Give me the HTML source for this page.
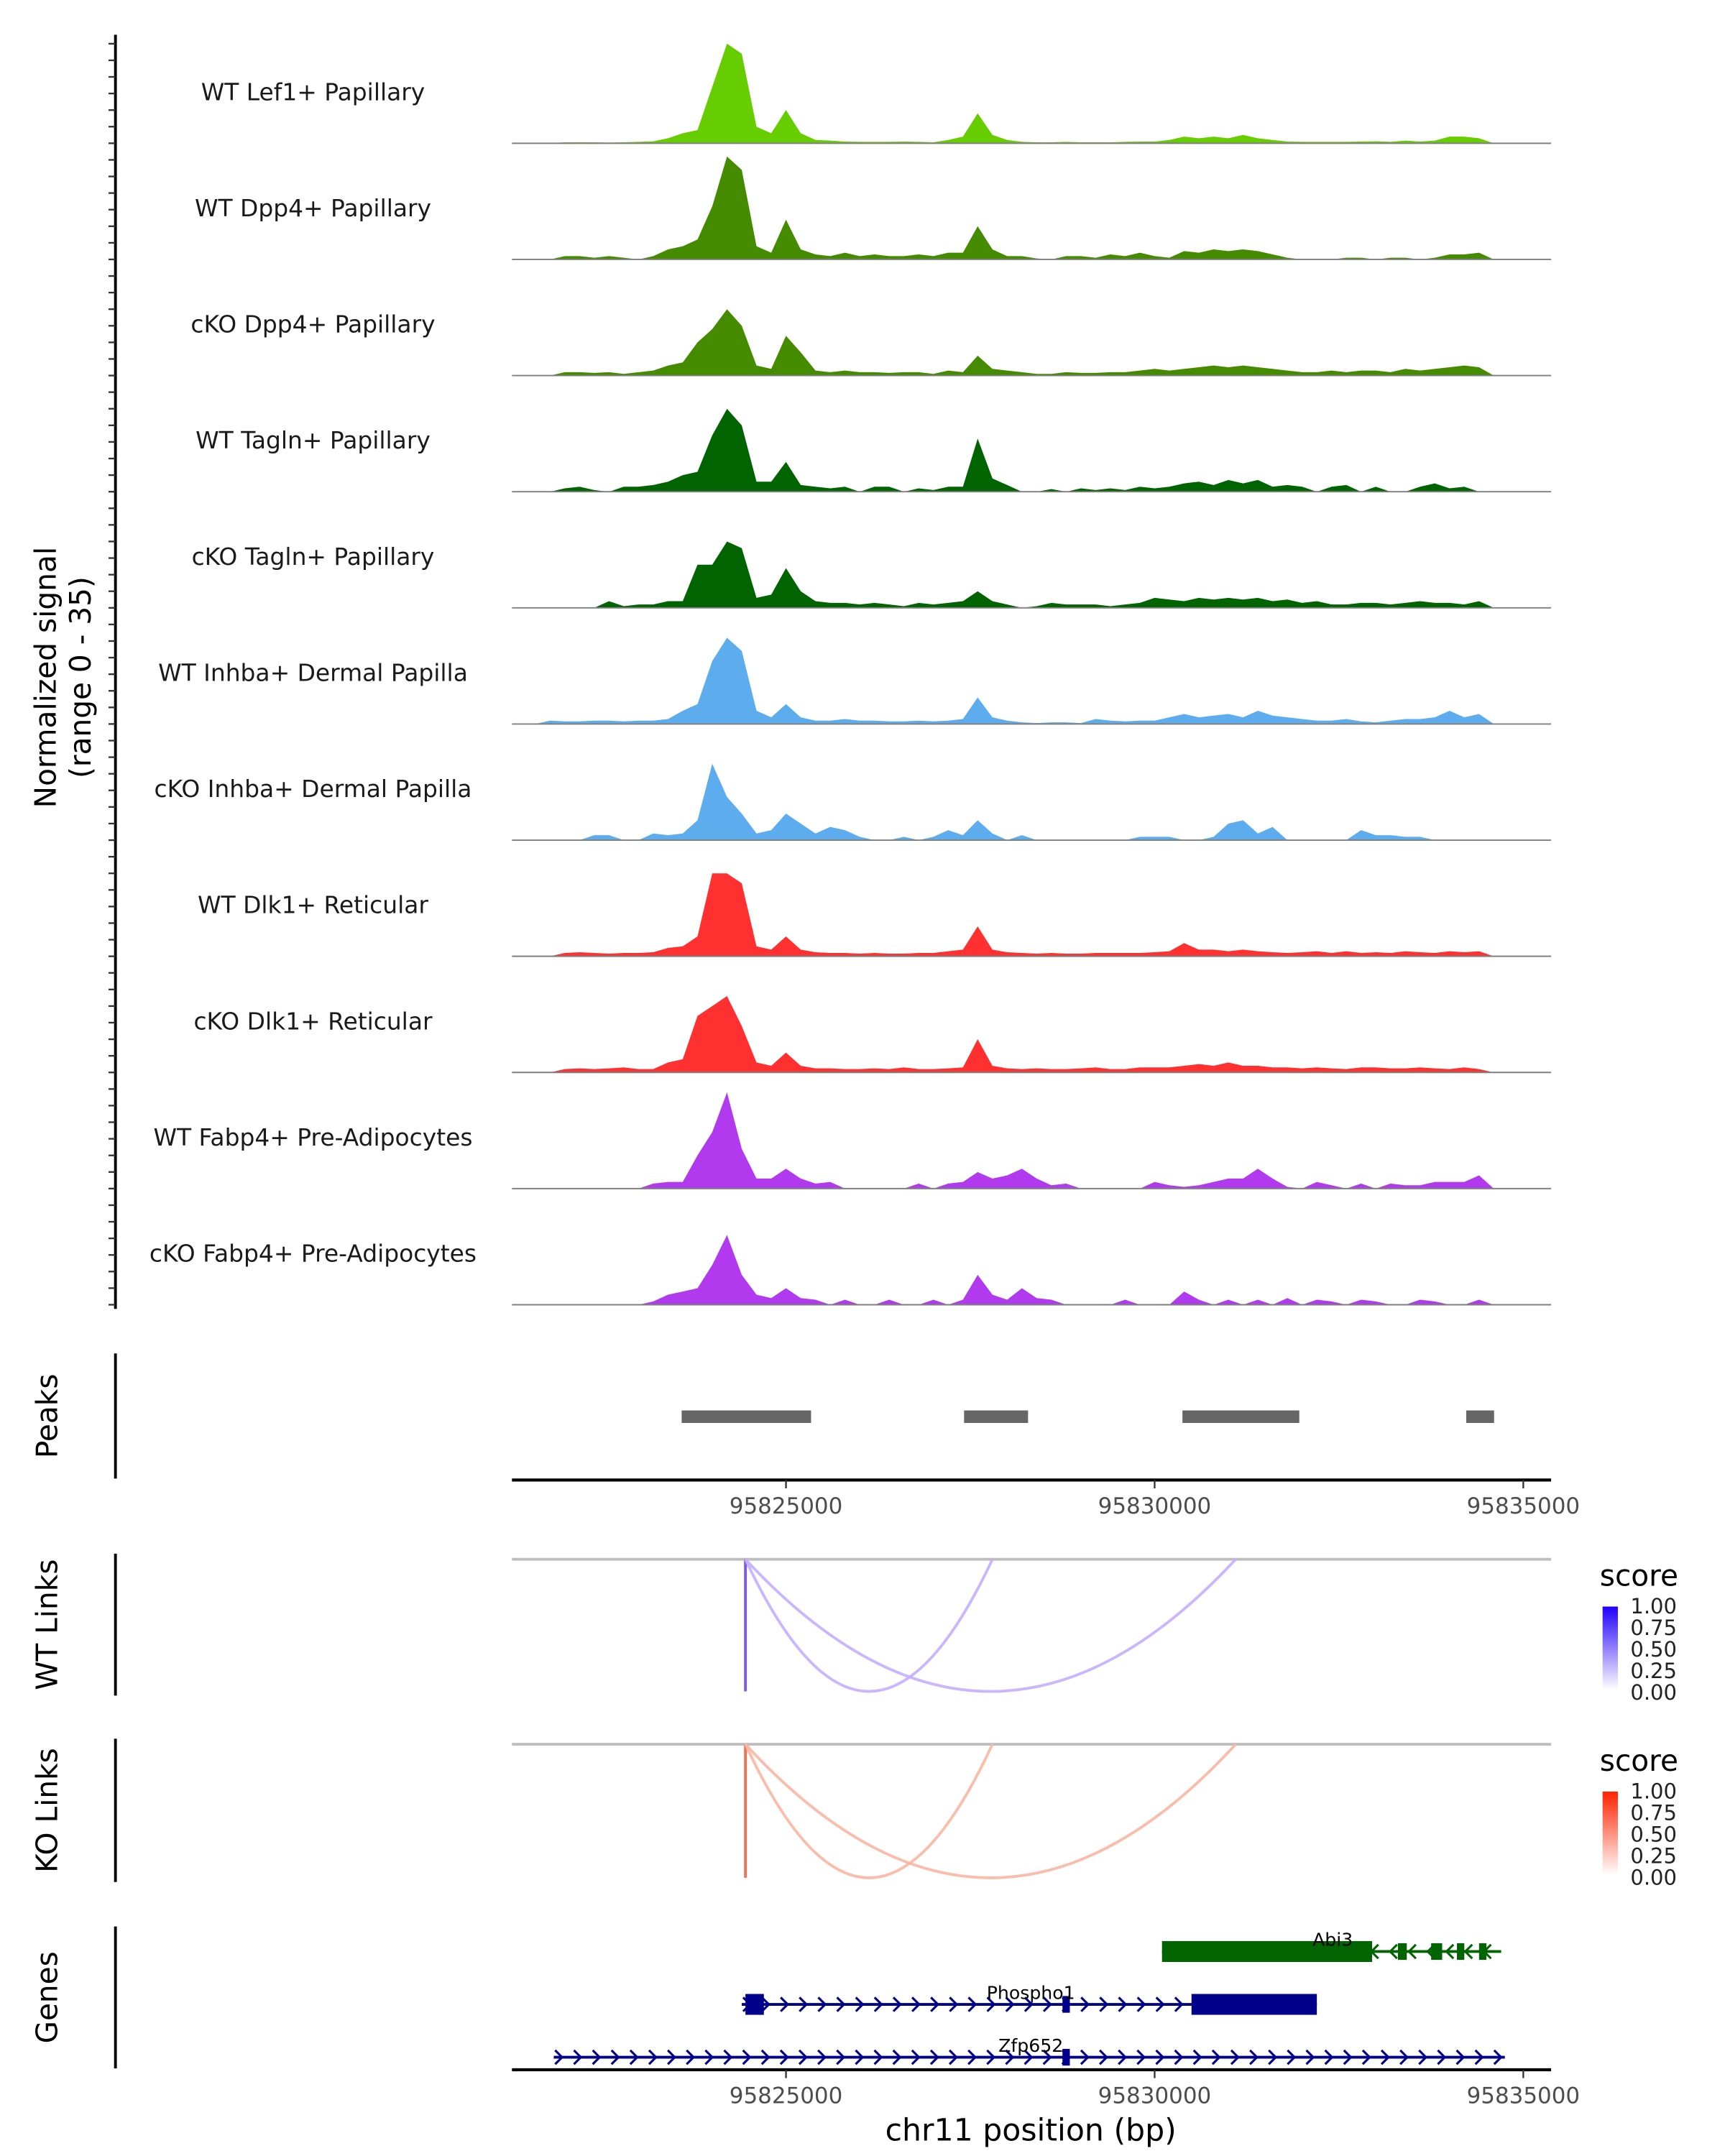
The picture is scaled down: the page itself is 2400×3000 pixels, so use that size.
<!DOCTYPE html>
<html><head><meta charset="utf-8"><style>
html,body{margin:0;padding:0;background:#fff}
svg{display:block}
text{font-family:"DejaVu Sans","Liberation Sans",sans-serif}
</style></head><body>
<svg id="chart" xmlns="http://www.w3.org/2000/svg" width="2400" height="3000" viewBox="0 0 1240 1550">
<g id="tracks"></g>
<g id="rest"></g>
</svg>
<script>
const binStart = 95821500;
const binSize = 200;
const trackNames = ["WT Lef1+ Papillary","WT Dpp4+ Papillary","cKO Dpp4+ Papillary","WT Tagln+ Papillary","cKO Tagln+ Papillary","WT Inhba+ Dermal Papilla","cKO Inhba+ Dermal Papilla","WT Dlk1+ Reticular","cKO Dlk1+ Reticular","WT Fabp4+ Pre-Adipocytes","cKO Fabp4+ Pre-Adipocytes"];
const trackColors = ["#66CD00","#458B00","#458B00","#006400","#006400","#5CACEE","#5CACEE","#FF3030","#FF3030","#B23AEE","#B23AEE"];
const lef1WT = [0,0,0.3,0.3,0.3,0.2,0.3,0.4,0.6,1.5, 3,4,17,30,27,5,3,10,3,1, 0.8,0.5,0.4,0.4,0.4,0.5,0.4,0.3,1,2, 9,2.5,1,0.4,0.3,0.3,0.4,0.3,0.3,0.3, 0.4,0.5,0.5,1,2,1.5,2,1.5,2.5,1.5, 1,0.5,0.4,0.4,0.4,0.4,0.5,0.6,0.4,0.8, 0.5,0.8,2,2,1.5,0];
const dpp4WT = [0,0,1,1,0.5,1,0.5,0,1,3, 4,6,16,31,27,4,2,12,3,1.5, 1,2,1,1.5,1,1,1.5,1,2,2, 10,3,1,1,0.3,0,1,1,0.5,1.5, 1,2,1,0.5,2.5,2,3,2.5,3,2.5, 1.5,0.5,0,0,0,0.5,0.5,0,0.5,0.5, 0,0.5,1.5,1.5,2,0];
const dpp4KO = [0,0,1,1,0.8,1,0.5,1,1.5,3, 4,10,14,20,15,3,2,12,7,1.5, 1,1.5,1,1,0.8,1,1,0.5,1.5,1, 6,2,1.5,1,0.5,0.5,1,0.8,0.8,1, 1,1.5,2,1.5,2,2.5,3,2.5,3,2.5, 2,1.5,1,1,1.5,1,1.5,1.5,1,2, 1.5,2,2.5,3,2.5,0];
const taglnWT = [0,0,1,1.5,0.5,0,1.5,1.5,2,3, 5,6,17,25,20,3,3,9,2,1.5, 1,1.5,0,1.5,1.5,0,1,0.5,1.5,1.5, 16,4,2,0,0,0.8,0,1,0.5,1, 0.5,1.5,1,1.5,2.5,3,2,3.5,2.5,3.5, 1.5,2,1.5,0,1.5,2,0,1.5,0,0, 1.5,2.5,1,1.5,0,0];
const taglnKO = [0,0,0,0,0,2,0.5,1,1,2, 2,13,13,20,18,3,4,12,5,2, 1.5,1.5,1,1.5,1,0.5,1.5,1,1.5,2, 5,2,1,0,0.5,1.5,1,1,1,0.5, 1,1.5,3,2.5,2,3,2.5,3,2.5,3, 2,2.5,1.5,2,1,1,1.5,1.5,1,1.5, 2,1.5,1.5,1,2,0];
const inhbaWT = [0,1,0.8,0.8,1,1,0.8,1,1,1.5, 4,6,19,26,22,4,2,6,2,1, 1,1.5,1,1,0.8,0.8,1,0.8,1,1.5, 8,2,1,0.5,0.3,0.5,0.5,0.3,1.5,1, 0.8,1,1,2,3,2,2.5,3,2,4, 2.5,2,1.5,1,1,1.5,0.8,0.5,1,1.5, 1.5,2,4,2,3,0];
const inhbaKO = [0,0,0,0,1.5,1.5,0,0,2,1.5, 2,6,23,13,8,2,3,8,5,2, 4,3,1,0,0,1,0,1,3,1.5, 6,2,0,1.5,0,0,0,0,0,0, 0,1,1,1,0,0,1,5,6,2, 4,0,0,0,0,0,3,1.5,1.5,1, 1,0,0,0,0,0];
const dlk1WT = [0,0,1,1.2,1,0.8,1,1,1.2,2.5, 3,6,25,25,22,3,2,6,2,1.2, 1,1,0.8,1,0.8,0.8,1,1,1.5,2, 9,2,1.2,1,0.8,1,0.8,0.8,1,1, 1,1,1.2,1.5,4,2,2,1.5,2,1.5, 1.2,1,1.2,1.5,1,1.5,1,1.2,1,1.5, 1.2,1,1.5,1.2,1.5,0];
const dlk1KO = [0,0,1,1.2,1,1.2,1.5,1,1,3, 4,17,20,23,14,3,2,6,2,1.2, 1.2,1,1,1.2,1,1.5,1,1,1.2,1.5, 10,2,1.2,1,1.2,1,1,1.2,1.5,1, 1,1.5,1.5,1.5,2,2.5,2,3,2,2, 1.5,1.5,1.2,1.5,1.2,1,1.5,1.5,1.2,1.2, 1.5,1.2,1,1.5,1,0];
const fabp4WT = [0,0,0,0,0,0,0,0,1.5,2, 2,10,17,29,12,3,3,6,3,1.5, 2,0,0,0,0,0,1.5,0,1.5,2, 5,3,4,6,3,1,1.5,0,0,0, 0,0,2,1,0.5,1,2,3,3,6, 3,0.5,0,2,1,0,1.5,0,1.5,1, 1,2,2,2,4,0];
const fabp4KO = [0,0,0,0,0,0,0,0,1,3, 4,5,12,21,9,3,2,5,2,1.5, 0,1.5,0,0,1.5,0,0,1.5,0,1.5, 9,3,1.5,5,2,1.5,0,0,0,0, 1.5,0,0,0,4,1.5,0,1.5,0,1.5, 0,2,0,1.5,1,0,1.5,1,0,0, 1.5,1,0,0,1.5,0];
const trackValues = [lef1WT,dpp4WT,dpp4KO,taglnWT,taglnKO,inhbaWT,inhbaKO,dlk1WT,dlk1KO,fabp4WT,fabp4KO];
const yMax = 35;
const xTicks = [95825000,95830000,95835000];
const peakStarts = [95823585,95827415,95830377,95834226];
const peakEnds = [95825340,95828283,95831962,95834604];
const linkAnchor = 95824450;
const linkTargets = [95827800,95831100];
const wtLinkScores = [0.3,0.3];
const koLinkScores = [0.3,0.3];
const legendTicks = ["1.00","0.75","0.50","0.25","0.00"];

const NS="http://www.w3.org/2000/svg";
const X0=368, BP0=95821283, PXBP=265/5000;
function xs(bp){return X0+(bp-BP0)*PXBP;}
const trackH=83.5, firstBase=103;
function ys(v,base){return base - v/yMax*trackH;}
function mk(tag,attrs,parent,txt){const e=document.createElementNS(NS,tag);for(const k in attrs)e.setAttribute(k,attrs[k]);if(txt!==undefined)e.textContent=txt;parent.appendChild(e);return e;}
const T=document.getElementById('tracks'), R=document.getElementById('rest');

// left axis for signal
let ax=mk('line',{x1:83,y1:25,x2:83,y2:941,stroke:'#000','stroke-width':2},T);


for(let i=0;i<trackValues.length;i++){
  const base=firstBase+i*trackH;
  for(let j=0;j<7;j++){
    const t=mk('line',{x1:78,x2:83,y1:base-j*trackH/7,y2:base-j*trackH/7,stroke:'#333','stroke-width':1.2},T);
    
    
  }
  const vals=trackValues[i];
  let d='M'+xs(binStart+binSize/2)+','+base;
  vals.forEach((v,k)=>{d+=' L'+xs(binStart+k*binSize+binSize/2).toFixed(1)+','+ys(v,base).toFixed(1);});
  d+=' L'+xs(binStart+(vals.length-1)*binSize+binSize/2)+','+base+' Z';
  const p=mk('path',{d:d,fill:trackColors[i],stroke:'none'},T);
  
  
  const bl=mk('line',{x1:368,x2:1115,y1:base,y2:base,stroke:'#7f7f7f','stroke-width':1},T);
  
  
  const lb=mk('text',{x:225,y:base-31,'font-size':17,'text-anchor':'middle',fill:'#1a1a1a'},T,trackNames[i]);
  
  
}
const yt=mk('text',{transform:'translate(40,487) rotate(-90)','font-size':21,'text-anchor':'middle',fill:'#000'},T);


mk('tspan',{x:0,dy:0},yt,'Normalized signal');
mk('tspan',{x:0,dy:25},yt,'(range 0 - 35)');

function sideAxis(y1,y2,label,name){
  const l=mk('line',{x1:83,x2:83,y1:y1,y2:y2,stroke:'#000','stroke-width':2},R);
  
  
  const t=mk('text',{transform:'translate(41,'+((y1+y2)/2)+') rotate(-90)','font-size':21,'text-anchor':'middle'},R,label);
  
  
}
function bottomAxis(y){
  const l=mk('line',{x1:368,x2:1115,y1:y,y2:y,stroke:'#000','stroke-width':2.2},R);
  
  
  xTicks.forEach(v=>{
    const t=mk('line',{x1:xs(v),x2:xs(v),y1:y,y2:y+6,stroke:'#333','stroke-width':1.2},R);
    
    
    const tl=mk('text',{x:xs(v),y:y+24,'font-size':16,'text-anchor':'middle',fill:'#4d4d4d'},R,String(v));
    
    
  });
}
// Peaks
sideAxis(973,1063,'Peaks','peaks');
peakStarts.forEach((s,i)=>{
  const r=mk('rect',{x:xs(s),y:1014,width:xs(peakEnds[i])-xs(s),height:9,fill:'#666'},R);
  
  
});
bottomAxis(1064);

// Links
function links(top,bottom,scores,lowC,highC,vertC,label,name){
  sideAxis(top-4,bottom+3,label,name);
  const b=mk('line',{x1:368,x2:1115,y1:top,y2:top,stroke:'#bebebe','stroke-width':2},R);
  
  
  const v=mk('line',{x1:xs(linkAnchor),x2:xs(linkAnchor),y1:top,y2:bottom,stroke:vertC,'stroke-width':2},R);
  
  
  linkTargets.forEach((t,i)=>{
    const a=xs(linkAnchor), c=xs(t), m=(a+c)/2;
    const p=mk('path',{d:`M${a},${top} Q${m},${2*bottom-top} ${c},${top}`,fill:'none',stroke:lowC,'stroke-width':2,'stroke-opacity':0.6+scores[i]},R);
    
    
  });
  const gid='g'+name;
  const g=mk('linearGradient',{id:gid,x1:0,y1:1,x2:0,y2:0},R);
  mk('stop',{offset:0,'stop-color':'#ffffff'},g);
  mk('stop',{offset:1,'stop-color':highC},g);
  const lt=mk('text',{x:1150,y:top+19,'font-size':21},R,'score');
  
  
  const cb=mk('rect',{x:1152,y:top+34,width:11,height:60,fill:`url(#${gid})`},R);
  
  
  legendTicks.forEach((s,i)=>{
    const tt=mk('text',{x:1172,y:top+39+i*15.5,'font-size':15,fill:'#222'},R,s);
    
    
  });
}
links(1121,1216,wtLinkScores,'#c4aeff','#2200ff','#7a5af0','WT Links','wt-links');
links(1254,1350,koLinkScores,'#fbb6a2','#ff2200','#f57050','KO Links','ko-links');

// Genes
sideAxis(1385,1487,'Genes','genes');
function gene(name,y,s,e,exons,color,dir,lx){
  const g=mk('g',{},R);
  
  
  mk('line',{x1:xs(s),x2:xs(e),y1:y,y2:y,stroke:color,'stroke-width':2},g);
  for(let x=xs(s)+4;x<xs(e)-2;x+=13.5){
    const d=dir>0?`M${x-3},${y-5} L${x+2},${y} L${x-3},${y+5}`:`M${x+3},${y-5} L${x-2},${y} L${x+3},${y+5}`;
    mk('path',{d:d,fill:'none',stroke:color,'stroke-width':1.6},g);
  }
  exons.forEach(ex=>{mk('rect',{x:xs(ex[0]),y:y-ex[2]/2,width:Math.max(2,xs(ex[1])-xs(ex[0])),height:ex[2],fill:color},g);});
  mk('text',{x:lx,y:y-4,'font-size':13,'text-anchor':'middle',fill:'#000'},g,name);
}
gene('Abi3',1403,95830100,95834700,[[95830100,95832950,15],[95833300,95833420,12],[95833750,95833900,12],[95834100,95834200,12],[95834400,95834500,12]],'#006400',-1,958);
gene('Phospho1',1441,95824400,95832200,[[95824450,95824700,15],[95828750,95828850,12],[95830500,95832200,15]],'#00008B',1,741);
gene('Zfp652',1479,95821850,95834750,[[95828750,95828850,12]],'#00008B',1,741);
bottomAxis(1488);
const xt=mk('text',{x:741,y:1539,'font-size':22,'text-anchor':'middle'},R,'chr11 position (bp)');


</script>
</body></html>
